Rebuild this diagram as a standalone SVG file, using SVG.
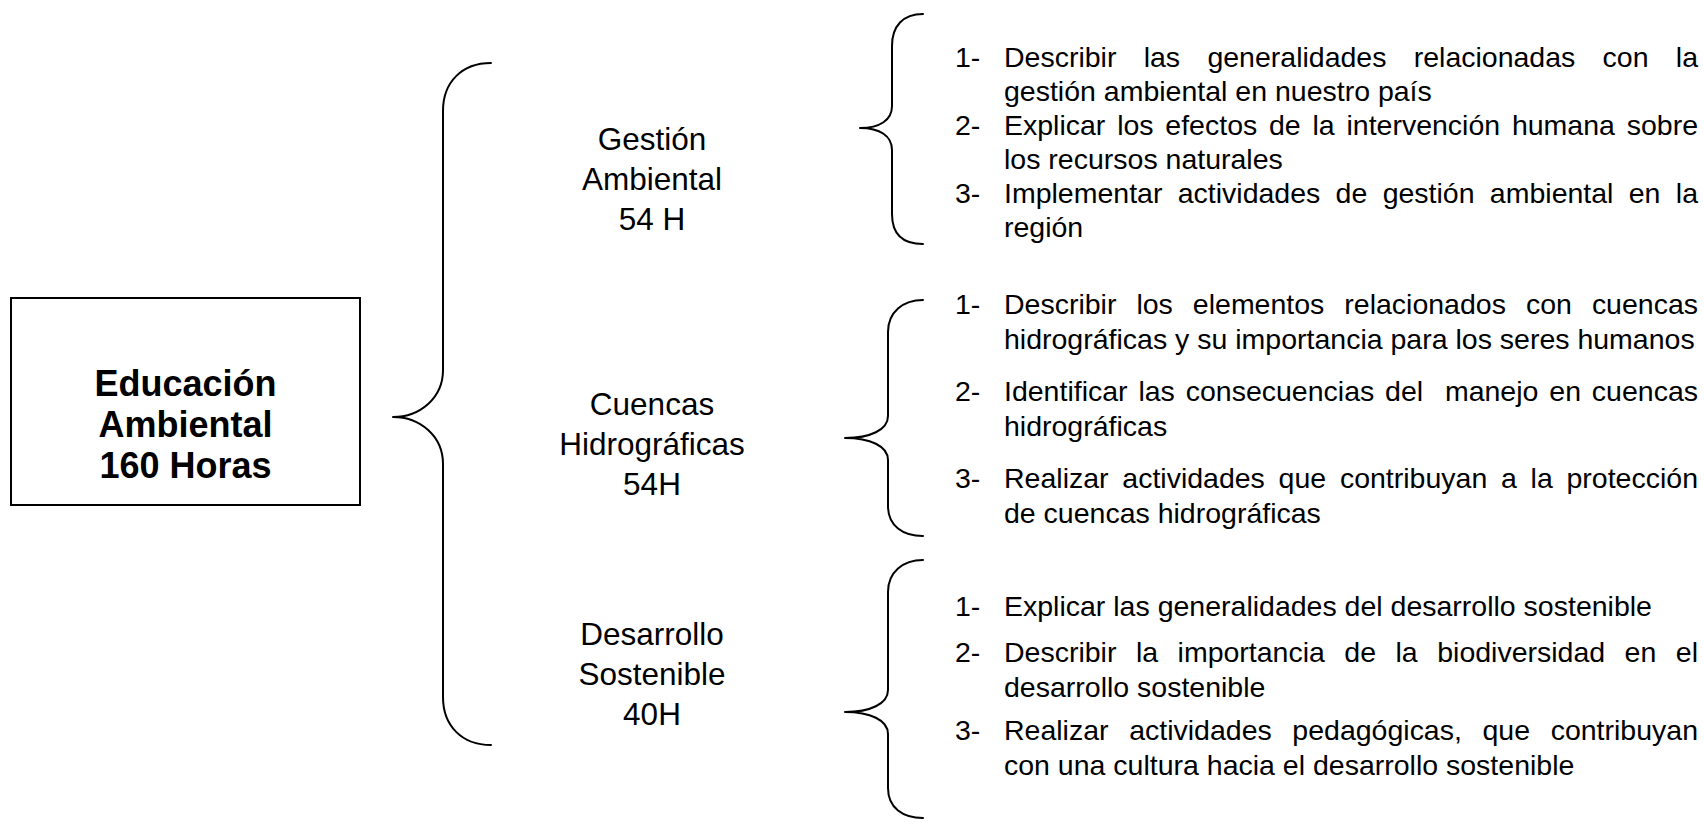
<svg xmlns="http://www.w3.org/2000/svg" width="1704" height="825" viewBox="0 0 1704 825">
<style>
.bg{fill:#ffffff}
.brace{fill:none;stroke:#000;stroke-width:2;stroke-linejoin:round;stroke-linecap:round}
.box{fill:#fff;stroke:#000;stroke-width:2}
.title{font-family:"Liberation Sans",Arial,sans-serif;font-weight:bold;font-size:36px;fill:#000;text-anchor:middle}
.lbl{font-family:"Liberation Sans",Arial,sans-serif;font-size:31.5px;fill:#000;text-anchor:middle}
.item{font-family:"Liberation Sans",Arial,sans-serif;font-size:28.5px;fill:#000}
</style>
<rect class="bg" x="0" y="0" width="1704" height="825"/>
<g id="root">
<rect class="box" x="11" y="298" width="349" height="207"/>
<text class="title" x="185.5" y="396">Educación</text>
<text class="title" x="185.5" y="437">Ambiental</text>
<text class="title" x="185.5" y="478">160 Horas</text>
</g>
<g id="connectors">
<path class="brace" d="M491,63 C462,63 443,82 443,111 L443,370 C443,398 420,417 393,417 C420,417 443,436 443,464 L443,697 C443,726 462,745 491,745"/>
<path class="brace" d="M923,14 C903,14 892,26 892,46 L892,106 C892,120 880,128 860,128 C880,128 892,136 892,150 L892,214 C892,234 903,244 923,244"/>
<path class="brace" d="M923,300 C903,300 888,312 888,332 L888,416 C888,430 870,438 845,438 C870,438 888,446 888,460 L888,506 C888,526 903,536 923,536"/>
<path class="brace" d="M923,560 C903,560 888,572 888,592 L888,690 C888,704 870,712 845,712 C870,712 888,720 888,734 L888,788 C888,808 903,818 923,818"/>
</g>
<g id="gestion">
<text class="lbl" x="652" y="150">Gestión</text>
<text class="lbl" x="652" y="190">Ambiental</text>
<text class="lbl" x="652" y="230">54 H</text>
</g>
<g id="cuencas">
<text class="lbl" x="652" y="415">Cuencas</text>
<text class="lbl" x="652" y="455">Hidrográficas</text>
<text class="lbl" x="652" y="495">54H</text>
</g>
<g id="desarrollo">
<text class="lbl" x="652" y="645">Desarrollo</text>
<text class="lbl" x="652" y="685">Sostenible</text>
<text class="lbl" x="652" y="725">40H</text>
</g>
<g id="objetivos-gestion">
<text class="item" x="955" y="67">1-</text>
<text class="item" x="1004" y="67" word-spacing="19.4" textLength="694" lengthAdjust="spacing">Describir las generalidades relacionadas con la</text>
<text class="item" x="1004" y="101">gestión ambiental en nuestro país</text>
<text class="item" x="955" y="135">2-</text>
<text class="item" x="1004" y="135" word-spacing="3.87" textLength="694" lengthAdjust="spacing">Explicar los efectos de la intervención humana sobre</text>
<text class="item" x="1004" y="169">los recursos naturales</text>
<text class="item" x="955" y="203">3-</text>
<text class="item" x="1004" y="203" word-spacing="7.42" textLength="694" lengthAdjust="spacing">Implementar actividades de gestión ambiental en la</text>
<text class="item" x="1004" y="237">región</text>
</g>
<g id="objetivos-cuencas">
<text class="item" x="955" y="314">1-</text>
<text class="item" x="1004" y="314" word-spacing="12.1" textLength="694" lengthAdjust="spacing">Describir los elementos relacionados con cuencas</text>
<text class="item" x="1004" y="349">hidrográficas y su importancia para los seres humanos</text>
<text class="item" x="955" y="401">2-</text>
<text class="item" x="1004" y="401" xml:space="preserve" style="white-space:pre" word-spacing="2.97" textLength="694" lengthAdjust="spacing">Identificar las consecuencias del  manejo en cuencas</text>
<text class="item" x="1004" y="436">hidrográficas</text>
<text class="item" x="955" y="488">3-</text>
<text class="item" x="1004" y="488" word-spacing="5.83" textLength="694" lengthAdjust="spacing">Realizar actividades que contribuyan a la protección</text>
<text class="item" x="1004" y="523">de cuencas hidrográficas</text>
</g>
<g id="objetivos-desarrollo">
<text class="item" x="955" y="616">1-</text>
<text class="item" x="1004" y="616">Explicar las generalidades del desarrollo sostenible</text>
<text class="item" x="955" y="662">2-</text>
<text class="item" x="1004" y="662" word-spacing="11.6" textLength="694" lengthAdjust="spacing">Describir la importancia de la biodiversidad en el</text>
<text class="item" x="1004" y="697">desarrollo sostenible</text>
<text class="item" x="955" y="740">3-</text>
<text class="item" x="1004" y="740" word-spacing="12.7" textLength="694" lengthAdjust="spacing">Realizar actividades pedagógicas, que contribuyan</text>
<text class="item" x="1004" y="775">con una cultura hacia el desarrollo sostenible</text>
</g>
</svg>
